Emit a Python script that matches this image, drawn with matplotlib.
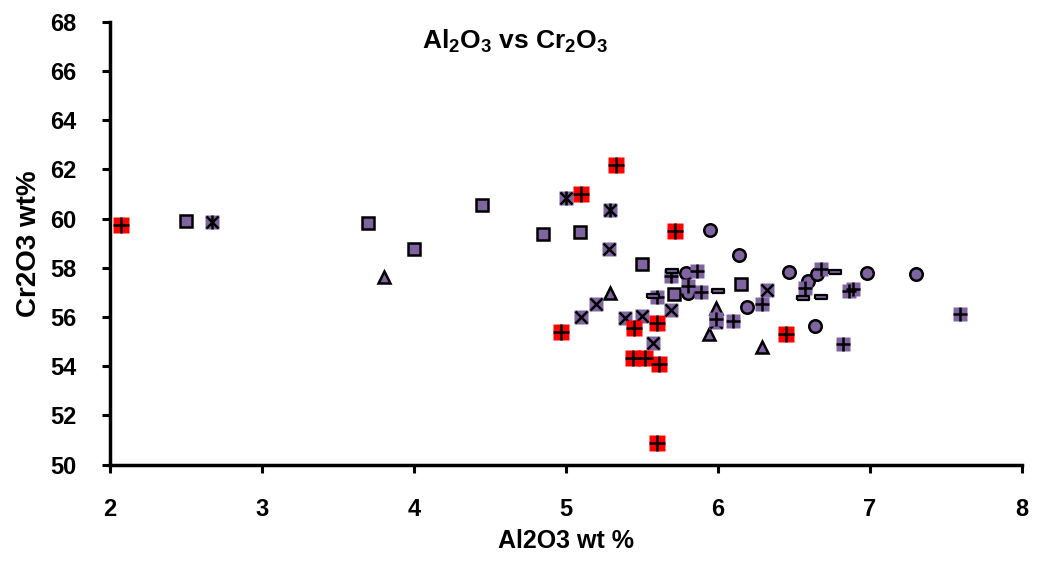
import numpy as np
import matplotlib.pyplot as plt

# ---------------- DATA ----------------
sq_x = [2.50, 3.70, 4.00, 4.45, 4.85, 5.09, 5.50, 5.71, 6.15]
sq_y = [59.92, 59.83, 58.75, 60.55, 59.36, 59.46, 58.14, 56.93, 57.33]

tri_x = [3.80, 5.29, 5.99, 5.94, 6.29]
tri_y = [57.61, 56.99, 56.35, 55.31, 54.79]

xm_x = [5.28, 5.20, 5.10, 5.39, 5.50, 5.69, 5.57, 6.32, 5.99]
xm_y = [58.75, 56.53, 56.01, 55.95, 56.04, 56.28, 54.93, 57.10, 55.80]

star_x = [2.67, 5.00, 5.29]
star_y = [59.85, 60.85, 60.35]

circ_x = [5.95, 6.14, 5.79, 5.80, 6.19, 6.47, 6.59, 6.65, 6.98, 7.30, 6.64]
circ_y = [59.54, 58.52, 57.78, 56.96, 56.42, 57.82, 57.46, 57.75, 57.78, 57.75, 55.63]

plus_x = [5.69, 5.86, 5.80, 5.60, 5.89, 5.99, 6.10, 6.29, 6.68, 6.57, 6.86, 6.89, 6.82, 7.59]
plus_y = [57.67, 57.87, 57.27, 56.82, 57.03, 55.90, 55.85, 56.53, 57.95, 57.17, 57.06, 57.13, 54.90, 56.12]

dash_x = [5.70, 5.57, 6.00, 6.77, 6.56, 6.68]
dash_y = [57.87, 56.85, 57.05, 57.84, 56.76, 56.82]

red_x = [2.07, 5.33, 5.10, 5.72, 4.97, 5.45, 5.60, 5.44, 5.52, 5.61, 5.60, 6.45]
red_y = [59.74, 62.18, 61.00, 59.48, 55.40, 55.56, 55.77, 54.34, 54.32, 54.09, 50.88, 55.31]

x_ticks = [2, 3, 4, 5, 6, 7, 8]
y_ticks = [50, 52, 54, 56, 58, 60, 62, 64, 66, 68]

# ---------------- PLOTTING ----------------
purple = '#8064A2'
plt.rcParams['font.family'] = ['Liberation Sans', 'DejaVu Sans']
plt.rcParams['font.weight'] = 'bold'
plt.rcParams['mathtext.fontset'] = 'custom'
plt.rcParams['mathtext.bf'] = 'Liberation Sans:bold'
plt.rcParams['mathtext.rm'] = 'Liberation Sans:bold'

fig = plt.figure(figsize=(10.37, 5.71), dpi=100)
ax = fig.add_axes([0.106, 0.1865, 0.8795, 0.775])

dash_marker = [(-1, -0.3), (1, -0.3), (1, 0.3), (-1, 0.3), (-1, -0.3)]

ax.plot(sq_x, sq_y, 's', ms=8, mfc=purple, mec='k', mew=1.8, zorder=3)
ax.plot(tri_x, tri_y, '^', ms=9, mfc=purple, mec='k', mew=1.8, zorder=3)
ax.plot(xm_x, xm_y, 's', ms=9.5, mfc=purple, mec='none', zorder=3)
ax.plot(xm_x, xm_y, 'x', ms=8.5, mec='k', mew=1.8, zorder=3)
ax.plot(star_x, star_y, 's', ms=9.5, mfc=purple, mec='none', zorder=3)
ax.plot(star_x, star_y, 'x', ms=8.5, mec='k', mew=1.8, zorder=3)
ax.plot(star_x, star_y, '|', ms=9.5, mec='k', mew=1.8, zorder=3)
ax.plot(circ_x, circ_y, 'o', ms=9, mfc=purple, mec='k', mew=1.8, zorder=4)
ax.plot(plus_x, plus_y, 's', ms=10.5, mfc=purple, mec='none', zorder=5)
ax.plot(plus_x, plus_y, '+', ms=10.5, mec='k', mew=1.8, zorder=5)
ax.plot(dash_x, dash_y, marker=dash_marker, ls='none', ms=9, mfc=purple, mec='k', mew=1.6, zorder=6)
ax.plot(red_x, red_y, 's', ms=12, mfc='#FF0000', mec='none', zorder=7)
ax.plot(red_x, red_y, '+', ms=12, mec='k', mew=1.8, zorder=7)

ax.set_xlim(2, 8)
ax.set_ylim(50, 68)
ax.set_xticks(x_ticks)
ax.set_yticks(y_ticks)
ax.tick_params(direction='out', length=6, width=2.2, labelsize=17)
ax.tick_params(axis='x', pad=18)
ax.tick_params(axis='y', pad=18)

for side in ['top', 'right']:
    ax.spines[side].set_visible(False)
for side in ['left', 'bottom']:
    ax.spines[side].set_linewidth(2.5)

ax.set_xlabel('Al2O3 wt %', fontsize=18, fontweight='bold', labelpad=6)
ax.set_ylabel('Cr2O3 wt%', fontsize=20, fontweight='bold', labelpad=6)

ax.text(0.444, 0.955, r'Al$\mathbf{_2}$O$\mathbf{_3}$ vs Cr$\mathbf{_2}$O$\mathbf{_3}$',
        transform=ax.transAxes, ha='center', va='center', fontsize=19, fontweight='bold')

fig.savefig('out.png', dpi=100)
